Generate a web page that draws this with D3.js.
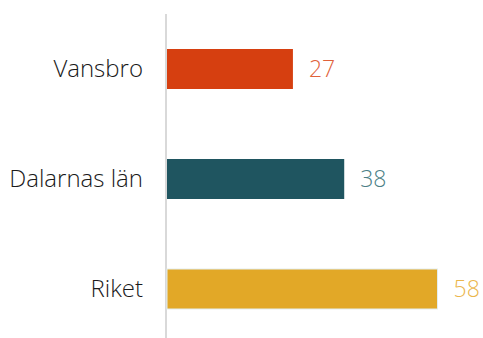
<!DOCTYPE html>
<html>
<head>
<meta charset="utf-8">
<script src="https://cdn.jsdelivr.net/npm/d3@7"></script>
<style>
  html, body { margin: 0; padding: 0; background: #fff; }
  svg { display: block; }
  text { font-family: "Open Sans", sans-serif; font-weight: 300; }
</style>
</head>
<body>
<svg id="chart" width="483" height="338"></svg>
<script>
// Share per area
const categories = ["Vansbro", "Dalarnas län", "Riket"];
const values = [27, 38, 58];
const barColors = ["#d63f10", "#1f5560", "#e2a827"];
const labelColors = ["#e0613a", "#4c7f86", "#ebb64c"];

const width = 483, height = 338;
const svg = d3.select("#chart");

const x = d3.scaleLinear().domain([0, 58]).range([167, 437.5]);
const y = d3.scaleBand().domain(categories).range([14, 344]).padding(0);
const barH = 40;

// vertical baseline
svg.append("line")
  .attr("x1", 166).attr("x2", 166)
  .attr("y1", 14).attr("y2", height)
  .attr("stroke", "#d9d9d9").attr("stroke-width", 2);

const rows = categories.map((c, i) => ({ c, v: values[i], bar: barColors[i], lab: labelColors[i] }));

svg.selectAll("rect.bar").data(rows).join("rect")
  .attr("class", "bar")
  .attr("x", x(0))
  .attr("y", d => y(d.c) + (y.bandwidth() - barH) / 2)
  .attr("width", d => x(d.v) - x(0))
  .attr("height", barH)
  .attr("fill", d => d.bar)
  .attr("stroke", (d, i) => i === 2 ? "#e3eeee" : "none")
  .attr("stroke-width", 1);

// category labels
svg.selectAll("text.cat").data(rows).join("text")
  .attr("class", "cat")
  .attr("x", 143)
  .attr("y", d => y(d.c) + y.bandwidth() / 2)
  .attr("dy", "0.35em")
  .attr("text-anchor", "end")
  .attr("font-size", 24)
  .attr("fill", "#1a1a1a")
  .text(d => d.c);

// value labels
svg.selectAll("text.val").data(rows).join("text")
  .attr("class", "val")
  .attr("x", d => x(d.v) + 16)
  .attr("y", d => y(d.c) + y.bandwidth() / 2)
  .attr("dy", "0.35em")
  .attr("font-size", 23)
  .attr("fill", d => d.lab)
  .text(d => d.v);
</script>
</body>
</html>
